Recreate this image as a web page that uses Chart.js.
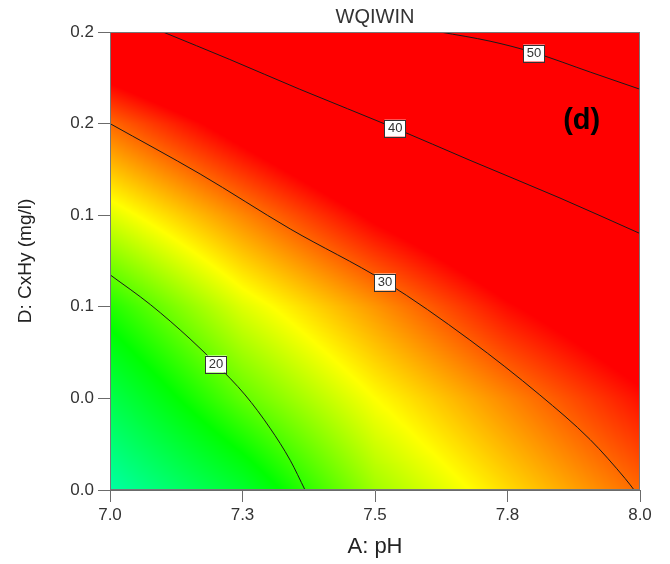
<!DOCTYPE html>
<html>
<head>
<meta charset="utf-8">
<title>WQIWIN</title>
<script src="https://cdn.jsdelivr.net/npm/chart.js@4.4.0/dist/chart.umd.min.js"></script>
<style>
  html, body { margin: 0; padding: 0; background: #fff; }
  #wrap { width: 670px; height: 564px; }
</style>
</head>
<body>
<div id="wrap"><canvas id="chart"></canvas></div>
<script>
// ----------------- DATA -----------------
const xTickValues = [7.0, 7.25, 7.5, 7.75, 8.0];
const xTickLabels = ["7.0", "7.3", "7.5", "7.8", "8.0"];
const yTickValues = [0, 0.04, 0.08, 0.12, 0.16, 0.2];
const yTickLabels = ["0.0", "0.0", "0.1", "0.1", "0.2", "0.2"];

// WQIWIN at each tick crossing (rows = CxHy, cols = pH)
const wqiGrid = [
  [10.0, 15.0, 22.0, 26.2, 30.0],   // 0.00
  [13.8, 20.0, 25.0, 29.0, 33.0],   // 0.04
  [18.0, 24.0, 28.5, 33.2, 36.8],   // 0.08
  [24.0, 29.0, 34.0, 38.0, 41.3],   // 0.12
  [30.0, 35.0, 39.8, 44.0, 47.6],   // 0.16
  [38.0, 42.5, 47.6, 52.0, 54.0]    // 0.20
];

// contour lines (pH, CxHy)
const contourLevels = [20, 30, 40, 50];
const contourPH = [
  [7.0, 7.076, 7.151, 7.2, 7.255, 7.302, 7.34, 7.368],
  [7.0, 7.17, 7.34, 7.519, 7.679, 7.811, 7.906, 7.972, 7.989],
  [7.1, 7.226, 7.358, 7.538, 7.679, 7.849, 8.0],
  [7.623, 7.717, 7.8, 7.906, 8.0]
];
const contourCxHy = [
  [0.094, 0.081, 0.066, 0.055, 0.0415, 0.027, 0.013, 0],
  [0.160, 0.138, 0.114, 0.091, 0.0655, 0.0415, 0.022, 0.005, 0],
  [0.2, 0.188, 0.175, 0.158, 0.144, 0.1275, 0.112],
  [0.2, 0.196, 0.191, 0.1825, 0.175]
];
const labelPH = [7.2, 7.519, 7.538, 7.8];
const labelCxHy = [0.055, 0.0908, 0.158, 0.1908];

// ----------------- COLOUR MAP -----------------
const colourStops = [
  [8, [0, 255, 210]],
  [17, [0, 255, 0]],
  [25, [255, 255, 0]],
  [33.5, [255, 0, 0]]
];

function colourFor(v) {
    if (v <= colourStops[0][0]) return colourStops[0][1];
    for (let i = 1; i < colourStops.length; i++) {
        const [v1, c1] = colourStops[i];
        if (v <= v1) {
            const [v0, c0] = colourStops[i - 1];
            const t = (v - v0) / (v1 - v0);
            return [0, 1, 2].map(k => c0[k] + (c1[k] - c0[k]) * t);
        }
    }
    return colourStops[colourStops.length - 1][1];
}

function wqiAt(ph, cx) {
    const nx = xTickValues.length, ny = yTickValues.length;
    let fx = (ph - xTickValues[0]) / (xTickValues[nx - 1] - xTickValues[0]) * (nx - 1);
    let fy = (cx - yTickValues[0]) / (yTickValues[ny - 1] - yTickValues[0]) * (ny - 1);
    fx = Math.max(0, Math.min(nx - 1.0001, fx));
    fy = Math.max(0, Math.min(ny - 1.0001, fy));
    const i = Math.floor(fx), j = Math.floor(fy);
    const tx = fx - i, ty = fy - j;
    const a = wqiGrid[j][i], b = wqiGrid[j][i + 1];
    const c = wqiGrid[j + 1][i], d = wqiGrid[j + 1][i + 1];
    return (a * (1 - tx) + b * tx) * (1 - ty) + (c * (1 - tx) + d * tx) * ty;
}

// ----------------- PLUGINS -----------------
const surfacePlugin = {
    id: "surface",
    beforeDatasetsDraw(chart) {
        const { ctx, chartArea: area, scales: { x, y } } = chart;
        const w = Math.round(area.right - area.left);
        const h = Math.round(area.bottom - area.top);
        const off = document.createElement("canvas");
        off.width = w; off.height = h;
        const octx = off.getContext("2d");
        const img = octx.createImageData(w, h);
        for (let py = 0; py < h; py++) {
            const cx = y.getValueForPixel(area.top + py + 0.5);
            for (let px = 0; px < w; px++) {
                const ph = x.getValueForPixel(area.left + px + 0.5);
                const col = colourFor(wqiAt(ph, cx));
                const k = (py * w + px) * 4;
                img.data[k] = col[0];
                img.data[k + 1] = col[1];
                img.data[k + 2] = col[2];
                img.data[k + 3] = 255;
            }
        }
        octx.putImageData(img, 0, 0);
        ctx.drawImage(off, area.left, area.top);
    },
    afterDatasetsDraw(chart) {
        const { ctx, chartArea: area, scales: { x, y } } = chart;
        // contour labels
        ctx.save();
        ctx.font = "13px 'Liberation Sans', Arial, sans-serif";
        ctx.textAlign = "center";
        ctx.textBaseline = "middle";
        contourLevels.forEach((lvl, i) => {
            const px = x.getPixelForValue(labelPH[i]);
            const py = y.getPixelForValue(labelCxHy[i]);
            const txt = String(lvl);
            const bw = ctx.measureText(txt).width + 7;
            const bh = 17;
            ctx.fillStyle = "#fff";
            ctx.fillRect(px - bw / 2, py - bh / 2, bw, bh);
            ctx.strokeStyle = "#333";
            ctx.lineWidth = 1;
            ctx.strokeRect(Math.round(px - bw / 2) + 0.5, Math.round(py - bh / 2) + 0.5, Math.round(bw), bh);
            ctx.fillStyle = "#333";
            ctx.fillText(txt, px, py + 0.5);
        });
        // panel letter
        ctx.font = "bold 29px 'Liberation Sans Narrow', 'Liberation Sans', Arial, sans-serif";
        ctx.fillStyle = "#000";
        ctx.fillText("(d)", x.getPixelForValue(7.89), y.getPixelForValue(0.161));
        // frame
        ctx.strokeStyle = "#777";
        ctx.lineWidth = 1;
        ctx.strokeRect(area.left + 0.5, area.top + 0.5, area.right - area.left - 1, area.bottom - area.top - 1);
        ctx.restore();
    }
};

// ----------------- CHART -----------------
const datasets = contourLevels.map((lvl, i) => ({
    label: "WQIWIN = " + lvl,
    data: contourPH[i].map((ph, k) => ({ x: ph, y: contourCxHy[i][k] })),
    showLine: true,
    borderColor: "#1a1a1a",
    borderWidth: 1,
    pointRadius: 0,
    cubicInterpolationMode: "monotone",
    fill: false
}));

const tickFont = { family: "'Liberation Sans', Arial, sans-serif", size: 17 };

new Chart(document.getElementById("chart"), {
    type: "scatter",
    data: { datasets: datasets },
    options: {
        responsive: true,
        maintainAspectRatio: false,
        animation: false,
        layout: { padding: { left: 0, right: 30, top: 0, bottom: 0 } },
        plugins: {
            legend: { display: false },
            tooltip: { enabled: false },
            title: {
                display: true,
                text: "WQIWIN",
                fullSize: false,
                color: "#333",
                font: { family: "'Liberation Sans', Arial, sans-serif", size: 20, weight: "normal" },
                padding: { top: 5, bottom: 3 }
            }
        },
        scales: {
            x: {
                type: "linear",
                min: 7,
                max: 8,
                afterBuildTicks: s => { s.ticks = xTickValues.map(v => ({ value: v })); },
                afterFit: s => { s.height = 74; },
                ticks: { color: "#333", font: tickFont, padding: 3, maxRotation: 0,
                         callback: (v, i) => xTickLabels[i] },
                grid: { drawOnChartArea: false, drawTicks: true, tickLength: 12, color: "#6b6b6b" },
                border: { display: true, color: "#6b6b6b" },
                title: { display: true, text: "A: pH", color: "#222",
                         font: { family: "'Liberation Sans', Arial, sans-serif", size: 22 },
                         padding: { top: 0, bottom: 4 } }
            },
            y: {
                type: "linear",
                min: 0,
                max: 0.2,
                afterBuildTicks: s => { s.ticks = yTickValues.map(v => ({ value: v })); },
                afterFit: s => { s.width = 110; },
                ticks: { color: "#333", font: tickFont, padding: 4,
                         callback: (v, i) => yTickLabels[i] },
                grid: { drawOnChartArea: false, drawTicks: true, tickLength: 12, color: "#6b6b6b" },
                border: { display: true, color: "#6b6b6b" },
                title: { display: true, text: "D: CxHy (mg/l)", color: "#222",
                         font: { family: "'Liberation Sans', Arial, sans-serif", size: 19 },
                         padding: { top: 14, bottom: 0 } }
            }
        }
    },
    plugins: [surfacePlugin]
});
</script>
</body>
</html>
